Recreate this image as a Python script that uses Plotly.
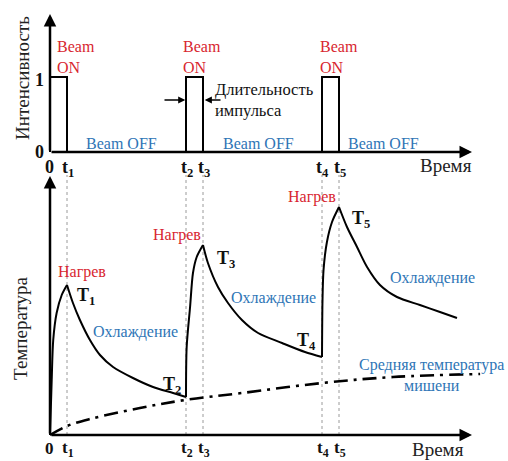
import plotly.graph_objects as go

# ---------------- data ----------------
pulse_starts = [0, 8, 16]          # pulse start times (t0, t2, t4)
pulse_width = 1                     # pulse duration
pulse_height = 1                    # intensity when beam is ON

tick_times = [1, 8, 9, 16, 17]
tick_labels = ["t<sub>1</sub>", "t<sub>2</sub>", "t<sub>3</sub>", "t<sub>4</sub>", "t<sub>5</sub>"]

temp_t = [0, 0.10, 0.19, 0.39, 0.69, 1.0,
          1.35, 1.76, 2.35, 2.94, 3.71, 4.88, 6.06, 7.24, 8.0,
          8.04, 8.24, 8.41, 8.63, 9.0,
          9.29, 9.88, 10.47, 11.29, 12.24, 13.65, 15.0, 16.0,
          16.03, 16.09, 16.29, 16.59, 17.0,
          17.47, 18.06, 18.65, 19.41, 20.41, 21.76, 22.94, 23.94]
temp_T = [0, 0.55, 0.95, 1.22, 1.40, 1.50,
          1.32, 1.15, 0.95, 0.80, 0.68, 0.57, 0.48, 0.42, 0.38,
          0.88, 1.28, 1.62, 1.78, 1.90,
          1.72, 1.48, 1.32, 1.15, 1.02, 0.92, 0.83, 0.78,
          1.35, 1.65, 1.93, 2.13, 2.28,
          2.08, 1.88, 1.68, 1.50, 1.38, 1.30, 1.23, 1.17]

mean_t = [0, 1, 2.35, 5.29, 7.94, 11.29, 16, 20.18, 25.3]
mean_T = [0, 0.09, 0.16, 0.27, 0.35, 0.42, 0.52, 0.58, 0.61]

# ---------------- helpers (pixel -> data for label placement) ----------------
def X(px):
    return (px - 50) / 17.0

def Y1(py):
    return (152 - py) / 75.0

def Y2(py):
    return (435 - py) / 100.0

SPLIT = 172
FONT = "Liberation Serif, Tinos, Times New Roman, serif"
RED = "#d8262f"
BLUE = "#2e75b6"
INK = "#111111"

fig = go.Figure()

# pulses
px_, py_ = [], []
for s in pulse_starts:
    px_ += [s, s, s + pulse_width, s + pulse_width, None]
    py_ += [0, pulse_height, pulse_height, 0, None]
fig.add_trace(go.Scatter(x=px_, y=py_, mode="lines", line=dict(color="black", width=2),
                         xaxis="x", yaxis="y", hoverinfo="skip", showlegend=False))

# dotted guide lines
gx, gy = [], []
for t in tick_times:
    gx += [t, t, None]
    gy += [0, Y2(175), None]
fig.add_trace(go.Scatter(x=gx, y=gy, mode="lines", line=dict(color="#9a9a9a", width=1, dash="dot"),
                         xaxis="x", yaxis="y2", hoverinfo="skip", showlegend=False))

# mean temperature
fig.add_trace(go.Scatter(x=mean_t, y=mean_T, mode="lines",
                         line=dict(color="black", width=2.6, dash="14px,6px,3px,6px", shape="spline"),
                         xaxis="x", yaxis="y2", hoverinfo="skip", showlegend=False))

# temperature: split into heating / cooling segments so peaks stay sharp
breaks = [0]
for i in range(1, len(temp_T) - 1):
    if (temp_T[i] - temp_T[i - 1]) * (temp_T[i + 1] - temp_T[i]) < 0:
        breaks.append(i)
breaks.append(len(temp_T) - 1)
for a, b in zip(breaks[:-1], breaks[1:]):
    fig.add_trace(go.Scatter(x=temp_t[a:b + 1], y=temp_T[a:b + 1], mode="lines",
                             line=dict(color="black", width=2, shape="spline", smoothing=0.8),
                             xaxis="x", yaxis="y2", hoverinfo="skip", showlegend=False))

ann = []

def arrow(x, y, ax, ay, yref, w=2.5, size=1.0):
    ann.append(dict(x=x, y=y, ax=ax, ay=ay, xref="x", yref=yref, axref="x", ayref=yref,
                    text="", showarrow=True, arrowhead=2, arrowsize=size, arrowwidth=w,
                    arrowcolor="black", standoff=0, startstandoff=0))

def text(x, y, s, yref, size=16, color=INK, xanchor="center", yanchor="middle", angle=0, align="center"):
    ann.append(dict(x=x, y=y, xref="x", yref=yref, text=s, showarrow=False,
                    font=dict(family=FONT, size=size, color=color),
                    xanchor=xanchor, yanchor=yanchor, textangle=angle, align=align))

# axes arrows
arrow(X(472), 0, 0, 0, "y")
arrow(0, Y1(14), 0, 0, "y")
arrow(X(472), 0, 0, 0, "y2")
arrow(0, Y2(176), 0, 0, "y2")

# pulse duration arrows
arrow(8 - 0.04, Y1(100), X(163), Y1(100), "y", w=1.3, size=1.1)
arrow(9 + 0.1, Y1(100), X(222), Y1(100), "y", w=1.3, size=1.1)

# top texts
for xl in [55, 181, 318]:
    text(X(xl), Y1(57), "Beam<br>ON", "y", size=16, color=RED, xanchor="left", align="left")
for xc in [121, 258, 383]:
    text(X(xc), Y1(143), "Beam OFF", "y", size=16, color=BLUE)
text(X(213), Y1(99.5), "Длительность<br>импульса", "y", size=16.5, color=INK, xanchor="left", align="left")
text(X(46), Y1(80), "<b>1</b>", "y", size=18, xanchor="right")
text(X(46), Y1(152), "<b>0</b>", "y", size=18, xanchor="right")
text(X(22), Y1(78), "Интенсивность", "y", size=19, color="#222222", angle=-90)
text(X(446), Y1(165), "Время", "y", size=19, color="#222222")
text(X(49), Y1(167), "<b>0</b>", "y", size=18)
for t, lab in zip(tick_times, tick_labels):
    text(t + 0.05, Y1(168), "<b>" + lab + "</b>", "y", size=18)

# bottom texts
text(X(49), Y2(448), "<b>0</b>", "y2", size=17)
for t, lab in zip(tick_times, tick_labels):
    text(t + 0.05, Y2(449), "<b>" + lab + "</b>", "y2", size=17)
text(X(438), Y2(449), "Время", "y2", size=19, color="#222222")
text(X(20), Y2(329), "Температура", "y2", size=19, color="#222222", angle=-90)

for xc, yc in [(82, 272), (177, 235), (312, 197)]:
    text(X(xc), Y2(yc), "Нагрев", "y2", size=16, color=RED)
for xc, yc in [(135, 332), (273, 298), (432, 278)]:
    text(X(xc), Y2(yc), "Охлаждение", "y2", size=16, color=BLUE)
text(X(431), Y2(375), "Средняя температура<br>мишени", "y2", size=16, color=BLUE)

for xl, yc, lab in [(75, 296, "T<sub>1</sub>"), (215, 259, "T<sub>3</sub>"), (350, 219, "T<sub>5</sub>")]:
    text(X(xl), Y2(yc), "<b>" + lab + "</b>", "y2", size=18, xanchor="left")
for xr, yc, lab in [(183, 385, "T<sub>2</sub>"), (318, 341, "T<sub>4</sub>")]:
    text(X(xr), Y2(yc), "<b>" + lab + "</b>", "y2", size=18, xanchor="right")

dom = 1 - SPLIT / 461.0
fig.update_layout(
    width=508, height=461, autosize=False,
    margin=dict(l=0, r=0, t=0, b=0, pad=0),
    paper_bgcolor="white", plot_bgcolor="white",
    showlegend=False,
    xaxis=dict(domain=[0, 1], range=[X(0), X(508)], visible=False, fixedrange=True),
    yaxis=dict(domain=[dom, 1], range=[Y1(SPLIT), Y1(0)], visible=False, anchor="x", fixedrange=True),
    yaxis2=dict(domain=[0, dom], range=[Y2(461), Y2(SPLIT)], visible=False, anchor="x", fixedrange=True),
    annotations=ann,
)

fig.write_html("out.html")
